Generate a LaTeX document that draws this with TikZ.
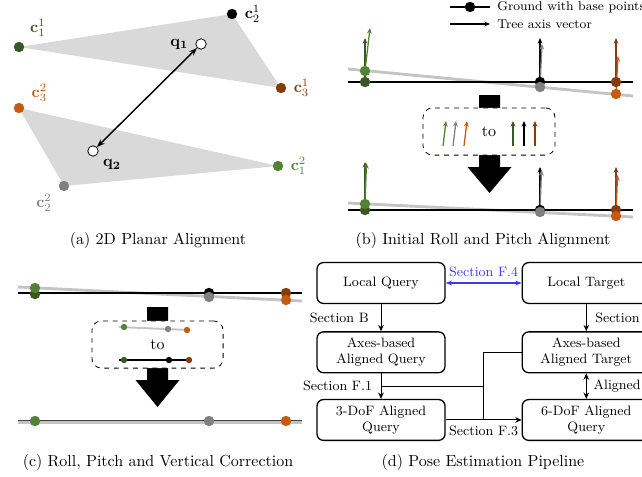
\documentclass[tikz,border=0pt]{standalone}
\usepackage{xcolor}
\usepackage{tikz}
\usetikzlibrary{positioning, arrows.meta, calc, backgrounds}
\definecolor{treedark}{HTML}{385723}
\definecolor{treegreen}{HTML}{548235}
\definecolor{treegray}{HTML}{808080}
\definecolor{treebrown}{HTML}{843C0C}
\definecolor{treeorange}{HTML}{C55A11}
\definecolor{trifill}{HTML}{D9D9D9}
\definecolor{tiltgray}{HTML}{C4C4C4}
\definecolor{secblue}{HTML}{3A3AFF}

% big black arrow: x, top, head base, tip
\newcommand{\bigdownarrow}[4]{%
  \fill (#1-10.5,#2) -- (#1+10.5,#2) -- (#1+10.5,#3) -- (#1+22,#3) -- (#1,#4)
    -- (#1-22,#3) -- (#1-10.5,#3) -- cycle;}

\tikzset{
  basedot/.style={circle, inner sep=0pt, minimum size=6.5pt},
  smalldot/.style={circle, inner sep=0pt, minimum size=4pt},
  qdot/.style={circle, draw, fill=white, inner sep=0pt, minimum size=6.5pt, line width=0.5pt},
  ground/.style={line width=1.2pt},
  tilted/.style={line width=1.8pt, color=tiltgray},
  treeaxis/.style={-{Stealth[length=3.5pt, width=3pt]}, line width=0.8pt},
  flowbox/.style={draw, line width=0.8pt, rounded corners=4pt, minimum width=80pt,
                  minimum height=25.5pt, align=center, font=\fontsize{8.5}{10}\selectfont},
  flowarrow/.style={-{Stealth[length=4pt, width=3.5pt]}, line width=0.6pt},
  seclabel/.style={font=\fontsize{8.5}{10}\selectfont},
  legendtext/.style={font=\fontsize{8}{9.5}\selectfont, anchor=west, inner sep=0pt},
  dashbox/.style={draw, dashed, rounded corners=6pt, fill=white, line width=0.5pt},
  captext/.style={font=\normalsize}
}

\begin{document}
\begin{tikzpicture}[x=0.625pt, y=-0.625pt]
  \useasboundingbox (0,0) rectangle (642,476);
  \clip (0,0) rectangle (642,476);

  % (a) 2D planar alignment
  \node[basedot, fill=treedark, label={[text=treedark, label distance=1pt]40:$\mathbf{c}_1^1$}] (c11) at (19,47) {};
  \node[basedot, fill=black, label={[label distance=1pt]right:$\mathbf{c}_2^1$}] (c21) at (232,14) {};
  \node[basedot, fill=treebrown, label={[text=treebrown, label distance=1pt]right:$\mathbf{c}_3^1$}] (c31) at (281,88) {};
  \node[basedot, fill=treeorange, label={[text=treeorange, label distance=1pt]10:$\mathbf{c}_3^2$}] (c32) at (19,108) {};
  \node[basedot, fill=treegreen, label={[text=treegreen, label distance=1pt]right:$\mathbf{c}_1^2$}] (c12) at (278,166) {};
  \node[basedot, fill=treegray, label={[text=treegray, label distance=1pt]200:$\mathbf{c}_2^2$}] (c22) at (64,186) {};
  \begin{scope}[on background layer]
    \fill[trifill] (c11.center) -- (c21.center) -- (c31.center) -- cycle;
    \fill[trifill] (c32.center) -- (c12.center) -- (c22.center) -- cycle;
  \end{scope}
  \node[qdot, label={[label distance=1pt]left:$\mathbf{q_1}$}] (q1) at (201,44) {};
  \node[qdot, label={[label distance=0pt]-35:$\mathbf{q_2}$}] (q2) at (93,151) {};
  \draw[{Stealth[length=5pt]}-{Stealth[length=5pt]}, line width=0.9pt] (q1) -- (q2);
  \node[captext] (capa) at (158,240) {(a) 2D Planar Alignment};

  % (b) initial roll and pitch alignment
  \coordinate (lga) at (450,7);
  \coordinate (lgb) at (490,7);
  \draw[ground] (lga) -- node[basedot, fill=black] (lgdot) {} (lgb);
  \node[legendtext] (lgground) at (497,7) {Ground with base points};
  \coordinate (lgc) at (450,24);
  \coordinate (lgd) at (490,24);
  \draw[treeaxis, black] (lgc) -- (lgd);
  \node[legendtext] (lgaxis) at (497,24) {Tree axis vector};

  \draw[tilted] (348,69) -- (633,96);
  \draw[ground] (348,82) -- (633,82);
  \foreach \n/\x/\dc/\lc/\ly/\tx/\ty in {g/365/treedark/treegreen/71/370/28,
      k/540/black/treegray/87/542/44, o/616/treebrown/treeorange/94/618/56} {
    \draw[treeaxis, \dc] (\x,82) -- (\x,38);
    \draw[treeaxis, \lc] (\x,\ly) -- (\tx,\ty);
    \node[basedot, fill=\dc] (bt\n) at (\x,82) {};
    \node[basedot, fill=\lc] (btl\n) at (\x,\ly) {};
  }

  \bigdownarrow{489.5}{95}{167}{193}
  \node[dashbox, minimum width=82.5pt, minimum height=29.5pt] (bbox) at (489,131.5) {to};
  \foreach \x/\c in {443/treegreen, 453/treegray, 464/treeorange}
    \draw[treeaxis, \c] (\x,146) -- (\x+3,121);
  \foreach \x/\c in {513/treedark, 524/black, 535/treebrown}
    \draw[treeaxis, \c] (\x,146) -- (\x,121);

  \draw[tilted] (348,203) -- (633,217);
  \draw[ground] (348,210) -- (633,210);
  \foreach \n/\x/\dc/\lc/\ly/\dt/\lt in {g/365/treedark/treegreen/204/162/163,
      k/540/black/treegray/212/167/170, o/616/treebrown/treeorange/216/167/175} {
    \draw[treeaxis, \dc] (\x,210) -- (\x,\dt);
    \draw[treeaxis, \lc] (\x,\ly) -- (\x+1.5,\lt);
    \node[basedot, fill=\dc] (bb\n) at (\x,210) {};
    \node[basedot, fill=\lc] (bbl\n) at (\x,\ly) {};
  }
  \node[captext] (capb) at (483,240) {(b) Initial Roll and Pitch Alignment};

  % (c) roll, pitch and vertical correction
  \draw[tilted] (18,287) -- (302,301);
  \draw[ground] (18,293) -- (302,293);
  \foreach \n/\x/\dc/\lc/\dy/\ly in {g/35/treedark/treegreen/294/288,
      k/209/black/treegray/293/297, o/286/treebrown/treeorange/293/300} {
    \node[basedot, fill=\dc] (ct\n) at (\x,\dy) {};
    \node[basedot, fill=\lc] (ctl\n) at (\x,\ly) {};
  }

  \bigdownarrow{157.5}{307}{380}{407}
  \node[dashbox, minimum width=82pt, minimum height=29.5pt] (cbox) at (157.5,344.5) {to};
  \draw[line width=1.2pt, tiltgray] (119,327) -- (189,330);
  \node[smalldot, fill=treegreen] (cst1) at (124,327) {};
  \node[smalldot, fill=treegray] (cst2) at (168,329) {};
  \node[smalldot, fill=treeorange] (cst3) at (187,330) {};
  \draw[line width=0.9pt] (119,360) -- (189,360);
  \node[smalldot, fill=treedark] (csb1) at (124,360) {};
  \node[smalldot, fill=black] (csb2) at (169,360) {};
  \node[smalldot, fill=treebrown] (csb3) at (189,360) {};

  \draw[line width=2pt, tiltgray] (18,422.5) -- (302,422.5);
  \draw[line width=1pt, black!75] (18,420.5) -- (302,420.5);
  \foreach \n/\x/\c in {g/35/treegreen, k/209/treegray, o/286/treeorange}
    \node[basedot, fill=\c] (cb\n) at (\x,421) {};
  \node[captext] (capc) at (158,462) {(c) Roll, Pitch and Vertical Correction};

  % (d) pose estimation pipeline
  \node[flowbox] (lq) at (381,283) {Local Query};
  \node[flowbox, below=17pt of lq] (aq) {Axes-based\\Aligned Query};
  \node[flowbox, below=16pt of aq] (dq3) {3-DoF Aligned\\Query};
  \node[flowbox, right=47.5pt of lq] (lt) {Local Target};
  \node[flowbox, right=47.5pt of aq] (at) {Axes-based\\Aligned Target};
  \node[flowbox, right=47.5pt of dq3] (dq6) {6-DoF Aligned\\Query};

  \draw[flowarrow] (lq) -- node[seclabel, left=4pt] {Section B} (aq);
  \draw[flowarrow] (aq) -- coordinate[midway] (f1) node[seclabel, midway, left=2pt] {Section F.1} (dq3);
  \coordinate (mid) at ($(dq3.east)!0.5!(dq6.west)$);
  \draw[line width=0.6pt] (f1) -- (f1 -| mid);
  \draw[line width=0.6pt] (at.west) -| (mid);
  \draw[flowarrow] (dq3) -- node[seclabel, below] {Section F.3} (dq6);
  \draw[{Stealth[length=4pt]}-{Stealth[length=4pt]}, secblue, line width=1.4pt]
    (lq) -- node[seclabel, above] {Section F.4} (lt);
  \draw[flowarrow] (lt) -- node[seclabel, right=2pt] {Section F.2} (at);
  \draw[{Stealth[length=4pt, width=3.5pt]}-{Stealth[length=4pt, width=3.5pt]}, line width=0.6pt]
    (at) -- node[seclabel, right=1pt] {Aligned} (dq6);
  \node[captext] (capd) at (483,462) {(d) Pose Estimation Pipeline};
\end{tikzpicture}
\end{document}
